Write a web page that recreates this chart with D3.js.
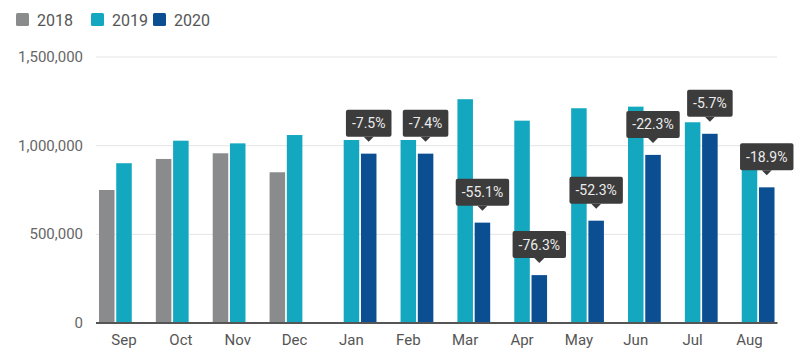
<!DOCTYPE html>
<html><head><meta charset="utf-8">
<script src="https://cdn.jsdelivr.net/npm/d3@7"></script>
<style>html,body{margin:0;padding:0;background:#fff;}svg{display:block;font-family:Roboto,"Noto Sans",sans-serif;}</style>
</head><body><svg id="c" width="800" height="358"></svg>
<script>
const months = ["Sep","Oct","Nov","Dec","Jan","Feb","Mar","Apr","May","Jun","Jul","Aug"];
const seriesNames = ["2018","2019","2020"];
const values2018 = [750000, 925000, 957000, 850000, null, null, null, null, null, null, null, null];
const values2019 = [901000, 1028000, 1013000, 1060000, 1032000, 1032000, 1262000, 1141000, 1211000, 1220000, 1132000, 943000];
const values2020 = [null, null, null, null, 955000, 955000, 566000, 270000, 577000, 948000, 1067000, 765000];
const pctLabels = [null, null, null, null, "-7.5%", "-7.4%", "-55.1%", "-76.3%", "-52.3%", "-22.3%", "-5.7%", "-18.9%"];
const yTicks = [0, 500000, 1000000, 1500000];
const colors = ["#8a8b8d", "#13a8c0", "#0b4e92"];

const svg = d3.select("#c");
const x0 = d3.scaleBand().domain(months).range([96, 777.5]).paddingInner(0.12).paddingOuter(0.0525);
const x1 = d3.scaleBand().domain(seriesNames).range([0, x0.bandwidth()]).paddingInner(0.1);
const y = d3.scaleLinear().domain([0, 1500000]).range([323, 57]);

// grid
svg.append("g").selectAll("line").data(yTicks.filter(d => d > 0)).join("line")
  .attr("x1", 96).attr("x2", 777).attr("y1", d => y(d)).attr("y2", d => y(d))
  .attr("stroke", "#e4e4e4").attr("stroke-width", 1);

// y labels
const fmt = d3.format(",");
svg.append("g").selectAll("text").data(yTicks).join("text")
  .attr("x", 83).attr("y", d => y(d) + 5).attr("text-anchor", "end")
  .attr("font-size", 15).attr("fill", "#666").text(d => fmt(d));

// bars
const allSeries = [values2018, values2019, values2020];
const g = svg.append("g");
allSeries.forEach((vals, si) => {
  g.append("g").selectAll("rect").data(months.map((m, i) => ({m, v: vals[i]})).filter(d => d.v != null)).join("rect")
    .attr("x", d => x0(d.m) + x1(seriesNames[si]))
    .attr("width", x1.bandwidth())
    .attr("y", d => y(d.v))
    .attr("height", d => y(0) - y(d.v))
    .attr("fill", colors[si]);
});

// baseline
svg.append("line").attr("x1", 96).attr("x2", 777.5).attr("y1", y(0)).attr("y2", y(0))
  .attr("stroke", "#555").attr("stroke-width", 2);

// x labels
svg.append("g").selectAll("text").data(months).join("text")
  .attr("x", d => x0(d) + x0.bandwidth() / 2).attr("y", 345).attr("text-anchor", "middle")
  .attr("font-size", 15).attr("fill", "#555").text(d => d);

// percentage callouts
const lab = svg.append("g");
months.forEach((m, i) => {
  if (!pctLabels[i]) return;
  const cx = x0(m) + x1("2020") + x1.bandwidth() / 2;
  const top = y(values2020[i]);
  const bottom = top - 17;
  const h = 27;
  const t = lab.append("text").attr("x", cx).attr("y", bottom - h / 2 + 5)
    .attr("text-anchor", "middle").attr("font-size", 14).attr("fill", "#ececec").text(pctLabels[i]);
  const w = t.node().getComputedTextLength() + 12;
  lab.insert("rect", "text").attr("x", cx - w / 2).attr("y", bottom - h).attr("width", w).attr("height", h)
    .attr("rx", 2).attr("fill", "#3c3c3c");
  lab.insert("path", "text").attr("d", `M${cx - 5},${bottom} L${cx + 5},${bottom} L${cx},${bottom + 5} Z`).attr("fill", "#3c3c3c");
});

// legend
const lg = svg.append("g");
const legX = [16, 91, 153];
seriesNames.forEach((s, i) => {
  lg.append("rect").attr("x", legX[i]).attr("y", 13).attr("width", 13).attr("height", 13).attr("rx", 1.5).attr("fill", colors[i]);
  lg.append("text").attr("x", legX[i] + 21).attr("y", 25.5).attr("font-size", 16).attr("fill", "#555").text(s);
});
</script></body></html>
